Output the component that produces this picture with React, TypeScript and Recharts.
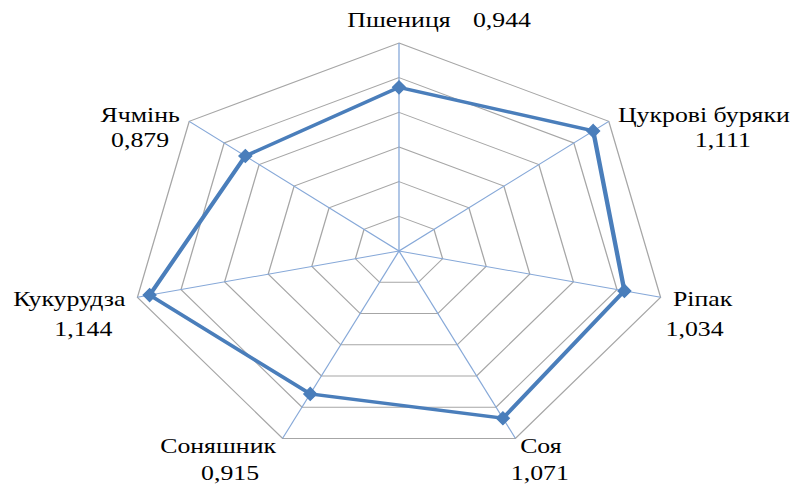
import React from 'react';
import { RadarChart, Radar, PolarGrid, PolarAngleAxis, PolarRadiusAxis } from 'recharts';

const crops = ['Пшениця', 'Цукрові буряки', 'Ріпак', 'Соя', 'Соняшник', 'Кукурудза', 'Ячмінь'];
const indexValues = [0.944, 1.111, 1.034, 1.071, 0.915, 1.144, 0.879];
const radiusTicks = [0, 0.2, 0.4, 0.6, 0.8, 1.0, 1.2];

// The original picture is stretched horizontally, so the whole chart is scaled on X
const SX = 1.29;
const CW = 620;
const CH = 484;
const CX = 310;
const CY = 251;
const R = 208;

const LINE = '#4A7EBB';
const RING = '#A6A6A6';
const SPOKE = '#86A8D8';

// label offsets from each tick point (page px): [nameDx, nameDy, valueDx, valueDy]
const labelOffsets = [
    [0, -8, 103, -8],
    [87, 6, 106, 31],
    [32, 7, 24, 37],
    [21, 7, 20, 34],
    [-60, 7, -48, 34],
    [-58, 7, -44, 37],
    [-41, 6, -41, 31],
];

const data = crops.map((name, i) => ({ name, value: indexValues[i] }));

const fmt = (v: number) => v.toFixed(3).replace('.', ',');

const CropTick = (props: any) => {
    const { x, y, payload, index } = props;
    const [nx, ny, vx, vy] = labelOffsets[index];
    const style = { fontFamily: '"Liberation Serif", "Times New Roman", serif', fontSize: 20, fill: '#000' };
    return (
        <g>
            <text x={x + nx / SX} y={y + ny} textAnchor="middle" style={style}>{payload.value}</text>
            <text x={x + vx / SX} y={y + vy} textAnchor="middle" style={style}>{fmt(indexValues[index])}</text>
        </g>
    );
};

const Diamond = (props: any) => {
    const { cx, cy, index } = props;
    const hx = 6.5 / SX;
    const hy = 6.5;
    return (
        <path
            key={`d-${index}`}
            d={`M${cx},${cy - hy} L${cx + hx},${cy} L${cx},${cy + hy} L${cx - hx},${cy} Z`}
            fill={LINE}
            stroke={LINE}
            strokeWidth={1}
        />
    );
};

export default function App() {
    return (
        <div style={{ position: 'relative', left: -8, top: -8, width: 798, height: 484, overflow: 'hidden', background: '#fff' }}>
            <div
                style={{
                    position: 'absolute',
                    left: 399 - CX,
                    top: 0,
                    width: CW,
                    height: CH,
                    transform: `scaleX(${SX})`,
                    transformOrigin: `${CX}px ${CY}px`,
                }}
            >
                <RadarChart width={CW} height={CH} cx={CX} cy={CY} outerRadius={R} data={data} margin={{ top: 0, right: 0, bottom: 0, left: 0 }}>
                    <PolarGrid gridType="polygon" radialLines={false} stroke={RING} strokeWidth={1} />
                    <PolarGrid gridType="polygon" polarRadius={[]} stroke={SPOKE} strokeWidth={1} />
                    <PolarAngleAxis dataKey="name" tick={<CropTick />} tickLine={false} axisLine={false} />
                    <PolarRadiusAxis domain={[0, 1.2]} ticks={radiusTicks as any} tickCount={7} tick={false} axisLine={false} />
                    <Radar
                        dataKey="value"
                        stroke={LINE}
                        strokeWidth={3.4}
                        fill="none"
                        fillOpacity={0}
                        dot={<Diamond />}
                        isAnimationActive={false}
                    />
                </RadarChart>
            </div>
        </div>
    );
}
